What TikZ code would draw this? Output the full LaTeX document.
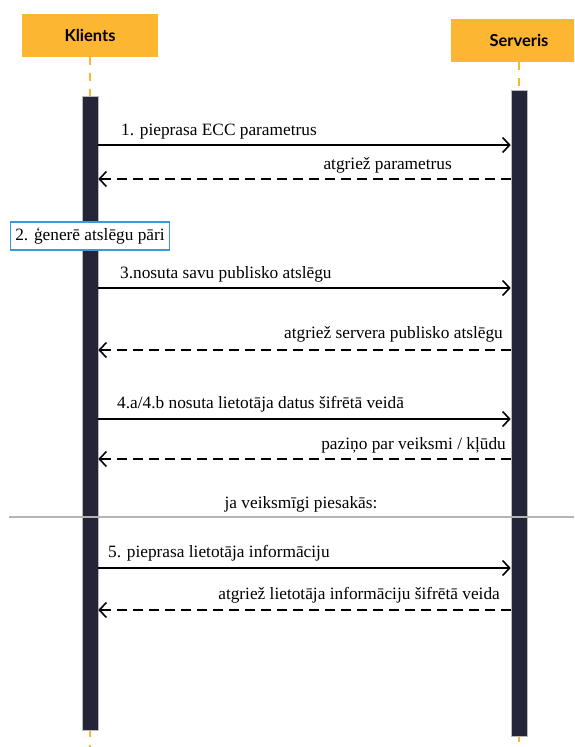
\documentclass[tikz,border=0pt]{standalone}
\usepackage{fontspec}
\setmainfont{Liberation Serif}
\newfontfamily\msgfont{Liberation Serif}
\newfontfamily\headfont{Lato}
\usetikzlibrary{arrows.meta}

\definecolor{actorOrange}{HTML}{FDB632}
\definecolor{barDark}{HTML}{25253A}
\definecolor{noteBlue}{HTML}{3A9AD9}
\definecolor{ruleGray}{HTML}{B4B4B4}

\tikzset{
    actor/.style={fill=actorOrange, minimum width=136pt, minimum height=43pt, inner sep=0pt,
        font=\headfont\bfseries\fontsize{16.5}{19}\selectfont},
    lifeline/.style={actorOrange, line width=2pt, dash pattern=on 8pt off 8pt},
    activation/.style={fill=barDark, draw=gray!55, line width=0.6pt, minimum width=16pt, inner sep=0pt},
    msg/.style={line width=1.6pt, -{Straight Barb[length=7pt, width=15pt, line width=1.6pt]}},
    reply/.style={msg, dash pattern=on 10pt off 6pt},
    lbl/.style={font=\msgfont\fontsize{17.3}{20}\selectfont, inner sep=0pt},
    note/.style={draw=noteBlue, line width=1.6pt, fill=white, minimum height=28pt,
        inner xsep=5pt, inner ysep=0pt, font=\msgfont\fontsize{17.3}{20}\selectfont},
}

\begin{document}
\begin{tikzpicture}[x=1pt, y=-1pt]
    \path[use as bounding box, clip] (0,0) rectangle (574,747);

    % dalībnieki
    \node[actor] (klients) at (90,35.5) {Klients};
    \node[actor] (serveris) at (519,40.5) {Serveris};
    \coordinate (kEnd) at (90,747);
    \coordinate (sEnd) at (519,747);
    \draw[lifeline] (klients.south) -- (kEnd);
    \draw[lifeline] (serveris.south) -- (sEnd);

    % aktivācijas joslas
    \node[activation, minimum height=634pt] (barK) at (90,413) {};
    \node[activation, minimum height=646pt] (barS) at (519,413) {};

    % ziņojumi
    \draw[msg] (barK.east |- 0,145) -- (barS.west |- 0,145);
    \node[lbl, anchor=base west] (req1) at (121,135) {1. pieprasa ECC parametrus};
    \draw[reply] (barS.west |- 0,179) -- (barK.east |- 0,179);
    \node[lbl, anchor=base east] (rep1) at (452,169) {atgriež parametrus};

    \node[note] (gen) at (90,236) {2. ģenerē atslēgu pāri};

    \draw[msg] (barK.east |- 0,288) -- (barS.west |- 0,288);
    \node[lbl, anchor=base west] (req3) at (120,278) {3.nosuta savu publisko atslēgu};
    \draw[reply] (barS.west |- 0,350) -- (barK.east |- 0,350);
    \node[lbl, anchor=base east] (rep3) at (503,338) {atgriež servera publisko atslēgu};

    \draw[msg] (barK.east |- 0,419) -- (barS.west |- 0,419);
    \node[lbl, anchor=base west] (req4) at (117,408) {4.a/4.b nosuta lietotāja datus šifrētā veidā};
    \draw[reply] (barS.west |- 0,459) -- (barK.east |- 0,459);
    \node[lbl, anchor=base east] (rep4) at (506,449) {paziņo par veiksmi / kļūdu};

    % nosacījums
    \node[lbl, anchor=base] (cond) at (301,508) {ja veiksmīgi piesakās:};
    \coordinate (ruleL) at (9,517);
    \coordinate (ruleR) at (574,517);
    \draw[ruleGray, line width=2pt] (ruleL) -- (ruleR);

    \draw[msg] (barK.east |- 0,568) -- (barS.west |- 0,568);
    \node[lbl, anchor=base west] (req5) at (108,557) {5. pieprasa lietotāja informāciju};
    \draw[reply] (barS.west |- 0,610) -- (barK.east |- 0,610);
    \node[lbl, anchor=base east] (rep5) at (500,599) {atgriež lietotāja informāciju šifrētā veida};
\end{tikzpicture}
\end{document}
